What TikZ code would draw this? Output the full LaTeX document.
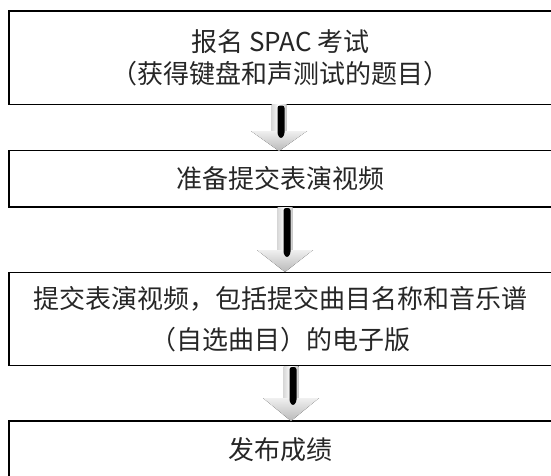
\documentclass[tikz,border=0pt]{standalone}
\usepackage{fontspec}
\newfontfamily\cjk{Noto Sans CJK SC}
\usetikzlibrary{calc}
\tikzset{
  box/.style={draw=black, line width=1.6pt, minimum width=543pt, inner sep=0pt, align=center,
    font=\cjk\fontsize{26}{32}\selectfont, text=black!85},
  ahead/.style={top color=gray!12, bottom color=gray!55, draw=none},
  ashaft/.style={left color=gray!30, right color=gray!45, middle color=white, draw=none},
  abar/.style={fill=black, draw=none, rounded corners=2.5pt}
}
\newcommand{\blockarrow}[4]{% cx, top, tip, headtop
  \fill[ashaft] (#1-7.5,#2) rectangle (#1+7.5,#4);
  \fill[ahead] (#1-28,#4) -- (#1+28,#4) -- (#1,#3) -- cycle;
  \fill[abar] (#1-1.5,#2+1) -- (#1+5.5,#2+1) -- (#1+5.5,#4+4) -- (#1+2,#4+8) -- (#1-1.5,#4+4) -- cycle;
}
\begin{document}
\begin{tikzpicture}[x=1pt,y=-1pt]
\useasboundingbox (0,0) rectangle (551,475);
\node[box, minimum height=93.5pt] (b1) at (280.5,57.75) {报名 SPAC 考试\\（获得键盘和声测试的题目）};
\node[box, minimum height=56.5pt] (b2) at (280.5,178.75) {准备提交表演视频};
\node[box, minimum height=93pt, font=\cjk\fontsize{26}{41}\selectfont] (b3) at (280.5,319) {提交表演视频，包括提交曲目名称和音乐谱\\（自选曲目）的电子版};
\node[box, minimum height=57pt] (b4) at (280.5,449.5) {发布成绩};
\blockarrow{279}{104.5}{151}{131}
\blockarrow{285}{207}{272}{250}
\blockarrow{291}{366}{421}{398}
\end{tikzpicture}
\end{document}
